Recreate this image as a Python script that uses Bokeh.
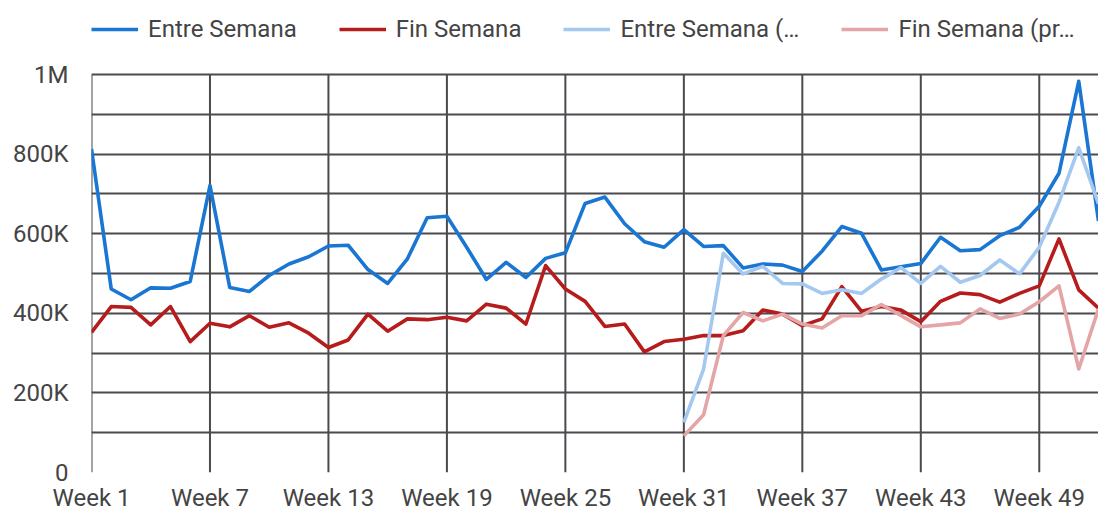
from bokeh.plotting import figure
from bokeh.models import Legend, LegendItem, FixedTicker, Range1d
from bokeh.embed import file_html
from bokeh.resources import INLINE

# ---- data ----
weeks = list(range(1, 53))
entre_semana = [813, 461, 434, 464, 463, 480, 721, 465, 455, 495, 524, 542, 569, 571,
                510, 475, 537, 640, 644, 566, 485, 528, 490, 538, 552, 676, 692, 625,
                580, 566, 610, 568, 570, 514, 524, 521, 505, 556, 618, 601, 509, 517,
                525, 591, 557, 560, 595, 616, 669, 752, 983, 632]
fin_semana = [352, 417, 415, 371, 417, 329, 375, 366, 394, 365, 376, 350, 314, 333,
              398, 355, 386, 384, 390, 381, 423, 413, 373, 520, 461, 430, 367, 373,
              303, 329, 335, 344, 344, 356, 408, 398, 369, 386, 467, 405, 417, 408,
              379, 430, 451, 447, 428, 450, 469, 587, 459, 413]
prev_weeks = list(range(31, 53))
entre_semana_prev = [126, 260, 551, 499, 518, 475, 474, 450, 459, 450, 486, 515, 475,
                     518, 478, 495, 534, 499, 566, 679, 816, 675]
fin_semana_prev = [92, 145, 344, 402, 381, 398, 373, 363, 394, 394, 422, 394, 366,
                   371, 376, 411, 387, 398, 429, 469, 260, 411]

series_names = ["Entre Semana", "Fin Semana", "Entre Semana (\u2026", "Fin Semana (pr\u2026"]
series_colors = ["#1976D2", "#B71C1C", "#A4C8EF", "#E4A5A7"]

x_ticks = [1, 7, 13, 19, 25, 31, 37, 43, 49]
x_tick_labels = ["Week 1", "Week 7", "Week 13", "Week 19", "Week 25", "Week 31",
                 "Week 37", "Week 43", "Week 49"]
y_ticks = [0, 200000, 400000, 600000, 800000, 1000000]
y_tick_labels = ["0", "200K", "400K", "600K", "800K", "1M"]
y_grid_ticks = [0, 100000, 200000, 300000, 400000, 500000, 600000, 700000, 800000,
                900000, 1000000]

scale = 1000

# ---- layout geometry ----
W, H = 1098, 518
border_left, border_bottom = 91, 46
legend_space = 74          # pixels above the 1M gridline reserved for the legend
frame_h = H - border_bottom
y_max = y_ticks[-1]
y_top = y_max * frame_h / (frame_h - legend_space)

p = figure(width=W, height=H, x_range=Range1d(weeks[0], weeks[-1]),
           y_range=Range1d(0, y_top),
           output_backend="svg", toolbar_location=None,
           min_border_left=border_left, min_border_right=0, min_border_top=0,
           min_border_bottom=border_bottom)
p.outline_line_color = None
p.background_fill_color = "white"
p.border_fill_color = "white"

grid_color = "#4a4a4f"
p.xgrid.visible = False
p.ygrid.ticker = FixedTicker(ticks=y_grid_ticks)
p.ygrid.grid_line_color = grid_color
p.ygrid.grid_line_width = 2
p.ygrid.grid_line_alpha = 1.0
# vertical grid lines only span the value range (0 .. 1M)
p.segment(x0=x_ticks, y0=[0] * len(x_ticks), x1=x_ticks, y1=[y_max] * len(x_ticks),
          line_color=grid_color, line_width=2)

p.xaxis.ticker = FixedTicker(ticks=x_ticks)
p.xaxis.major_label_overrides = dict(zip(x_ticks, x_tick_labels))
p.yaxis.ticker = FixedTicker(ticks=y_ticks)
p.yaxis.major_label_overrides = dict(zip(y_ticks, y_tick_labels))

label_color = "#444444"
for ax in (p.xaxis, p.yaxis):
    ax.axis_line_color = None
    ax.major_tick_line_color = None
    ax.minor_tick_line_color = None
    ax.major_tick_out = 0
    ax.major_tick_in = 0
    ax.major_label_text_font = "Roboto"
    ax.major_label_text_font_size = "24px"
    ax.major_label_text_color = label_color
p.yaxis.major_label_standoff = 23
p.xaxis.major_label_standoff = 11

renderers = []
data = [(weeks, entre_semana), (weeks, fin_semana),
        (prev_weeks, entre_semana_prev), (prev_weeks, fin_semana_prev)]
for (xs, ys), c in zip(data, series_colors):
    r = p.line(xs, [v * scale for v in ys], line_color=c, line_width=3.6,
               line_join="round")
    renderers.append(r)

items = [LegendItem(label=n, renderers=[r]) for n, r in zip(series_names, renderers)]
legend = Legend(items=items, orientation="horizontal", location="top_left",
                spacing=42, glyph_width=47, glyph_height=58, label_height=58,
                label_standoff=10, padding=0, margin=0,
                border_line_color=None, background_fill_alpha=0,
                label_text_font="Roboto", label_text_font_size="24px",
                label_text_color=label_color)
p.add_layout(legend)

open("out.html", "w").write(file_html(p, INLINE))
